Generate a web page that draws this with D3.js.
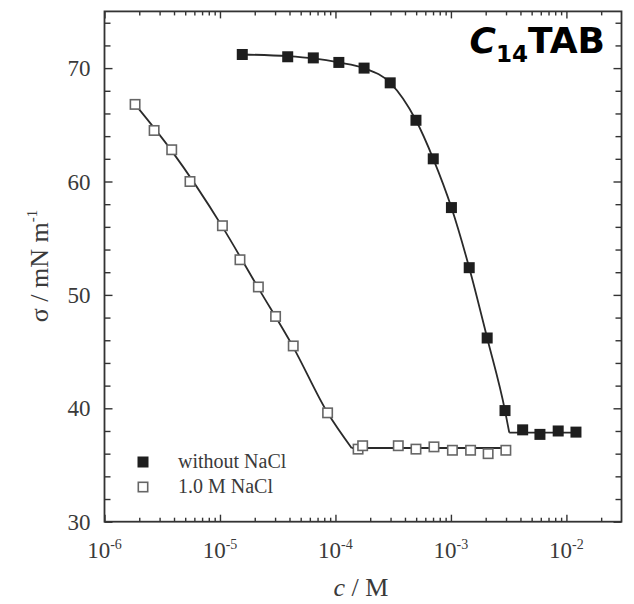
<!DOCTYPE html>
<html>
<head>
<meta charset="utf-8">
<script src="https://cdn.jsdelivr.net/npm/d3@7/dist/d3.min.js"></script>
<style>
  html, body { margin: 0; padding: 0; background: #fff; }
  svg { display: block; }
</style>
</head>
<body>
<svg id="chart" width="634" height="604"></svg>
<script>
// Surface tension of C14TAB versus concentration, with and without 1.0 M NaCl

// without NaCl (filled squares)
const freeConc = [1.56e-5, 3.86e-5, 6.43e-5, 1.07e-4, 1.77e-4, 2.98e-4, 4.98e-4, 7.03e-4,
                  1.01e-3, 1.44e-3, 2.06e-3, 2.94e-3, 4.18e-3, 5.90e-3, 8.49e-3, 1.21e-2];
const freeSigma = [71.2, 71.0, 70.9, 70.5, 70.0, 68.7, 65.4, 62.0,
                   57.7, 52.4, 46.2, 39.8, 38.1, 37.7, 38.0, 37.9];

// 1.0 M NaCl (open squares)
const saltConc = [1.84e-6, 2.69e-6, 3.82e-6, 5.50e-6, 1.05e-5, 1.49e-5, 2.15e-5, 3.03e-5,
                  4.31e-5, 8.55e-5, 1.57e-4, 1.72e-4, 3.50e-4, 4.98e-4, 7.13e-4, 1.03e-3,
                  1.48e-3, 2.10e-3, 2.99e-3];
const saltSigma = [66.8, 64.5, 62.8, 60.0, 56.1, 53.1, 50.7, 48.1,
                   45.5, 39.6, 36.4, 36.7, 36.7, 36.4, 36.6, 36.3,
                   36.3, 36.0, 36.3];

// fitted curves: curved branch up to the break (cmc), then the plateau
const freeFitConc = [1.56e-5, 3.86e-5, 6.43e-5, 1.07e-4, 1.77e-4, 2.98e-4, 4.98e-4, 7.03e-4,
                     1.01e-3, 1.44e-3, 2.06e-3, 2.94e-3, 3.2e-3];
const freeFitSigma = [71.2, 71.05, 70.85, 70.5, 70.0, 68.7, 65.4, 62.0,
                      57.7, 52.4, 46.2, 39.8, 37.85];
const freePlateauConc = [3.2e-3, 1.21e-2];
const freePlateauSigma = [37.85, 37.85];

const saltFitConc = [1.84e-6, 3.82e-6, 1.05e-5, 2.15e-5, 4.31e-5, 8.55e-5, 1.38e-4];
const saltFitSigma = [66.8, 62.7, 56.0, 50.6, 45.4, 39.6, 36.5];
const saltPlateauConc = [1.38e-4, 2.99e-3];
const saltPlateauSigma = [36.5, 36.5];

const xDecades = [1e-6, 1e-5, 1e-4, 1e-3, 1e-2];
const xDecadeExp = ["-6", "-5", "-4", "-3", "-2"];
const yMajor = [30, 40, 50, 60, 70];
const yMinor = [32, 34, 36, 38, 42, 44, 46, 48, 52, 54, 56, 58, 62, 64, 66, 68, 72, 74];

const legendLabels = ["without NaCl", "1.0 M NaCl"];

// ---- layout ----
const svg = d3.select("#chart");
const plotL = 104.5, plotR = 621.5, plotT = 11.4, plotB = 521.7;
const serif = "'Liberation Serif', 'Times New Roman', serif";
const ink = "#333";
const textInk = "#3a3a3a";

const x = d3.scaleLog().domain([1e-6, 3e-2]).range([plotL, plotR]);
const y = d3.scaleLinear().domain([30, 75]).range([plotB, plotT]);

// minor log ticks: 2..9 in each decade
const xMinor = [];
for (let e = -6; e <= -2; e++) {
  for (let m = 2; m <= 9; m++) {
    const v = m * Math.pow(10, e);
    if (v < 3e-2) xMinor.push(v);
  }
}

const axes = svg.append("g");
function styleAxis(g) {
  g.select(".domain").remove();
  g.selectAll(".tick line").attr("stroke", ink).attr("stroke-width", 1.4);
  g.selectAll(".tick text").remove();
}
// bottom & top (ticks pointing inward)
axes.append("g").attr("transform", `translate(0,${plotB})`)
  .call(d3.axisBottom(x).tickValues(xDecades).tickSize(-7)).call(styleAxis);
axes.append("g").attr("transform", `translate(0,${plotB})`)
  .call(d3.axisBottom(x).tickValues(xMinor).tickSize(-4)).call(styleAxis);
axes.append("g").attr("transform", `translate(0,${plotT})`)
  .call(d3.axisTop(x).tickValues(xDecades).tickSize(-7)).call(styleAxis);
axes.append("g").attr("transform", `translate(0,${plotT})`)
  .call(d3.axisTop(x).tickValues(xMinor).tickSize(-4)).call(styleAxis);
// left & right
axes.append("g").attr("transform", `translate(${plotL},0)`)
  .call(d3.axisLeft(y).tickValues(yMajor).tickSize(-8)).call(styleAxis);
axes.append("g").attr("transform", `translate(${plotL},0)`)
  .call(d3.axisLeft(y).tickValues(yMinor).tickSize(-6)).call(styleAxis);
axes.append("g").attr("transform", `translate(${plotR},0)`)
  .call(d3.axisRight(y).tickValues(yMajor).tickSize(-8)).call(styleAxis);
axes.append("g").attr("transform", `translate(${plotR},0)`)
  .call(d3.axisRight(y).tickValues(yMinor).tickSize(-6)).call(styleAxis);

// frame
svg.append("rect")
  .attr("x", plotL).attr("y", plotT)
  .attr("width", plotR - plotL).attr("height", plotB - plotT)
  .attr("fill", "none").attr("stroke", ink).attr("stroke-width", 1.8);

// y tick labels
svg.append("g").selectAll("text").data(yMajor).join("text")
  .attr("x", plotL - 14).attr("y", d => y(d)).attr("dy", "0.35em")
  .attr("text-anchor", "end")
  .attr("font-family", serif).attr("font-size", 23).attr("fill", textInk)
  .text(d => d);

// x tick labels: 10 with superscript exponent
const xl = svg.append("g").selectAll("text").data(xDecades).join("text")
  .attr("x", d => x(d)).attr("y", 558)
  .attr("text-anchor", "middle")
  .attr("font-family", serif).attr("font-size", 23).attr("fill", textInk);
xl.append("tspan").text("10");
xl.append("tspan").attr("dy", -9).attr("font-size", 14).text((d, i) => xDecadeExp[i]);

// axis titles
const xt = svg.append("text")
  .attr("x", 361).attr("y", 596).attr("text-anchor", "middle")
  .attr("font-family", serif).attr("font-size", 26).attr("fill", textInk);
xt.append("tspan").attr("font-style", "italic").text("c");
xt.append("tspan").text(" / M");

const yt = svg.append("text")
  .attr("transform", "translate(48,266) rotate(-90)")
  .attr("text-anchor", "middle")
  .attr("font-family", serif).attr("font-size", 26).attr("fill", textInk);
yt.append("tspan").text("\u03c3 / mN m");
yt.append("tspan").attr("dy", -11).attr("font-size", 15).text("-1");

// fitted lines
const line = d3.line().x(d => x(d[0])).y(d => y(d[1]));
const curved = d3.line().x(d => x(d[0])).y(d => y(d[1])).curve(d3.curveMonotoneX);
const zip = (a, b) => a.map((v, i) => [v, b[i]]);

const lines = svg.append("g").attr("fill", "none").attr("stroke", "#2a2a2a").attr("stroke-width", 1.8);
lines.append("path").attr("d", curved(zip(saltFitConc, saltFitSigma)));
lines.append("path").attr("d", line(zip(saltPlateauConc, saltPlateauSigma)));
lines.append("path").attr("d", curved(zip(freeFitConc, freeFitSigma)));
lines.append("path").attr("d", line(zip(freePlateauConc, freePlateauSigma)));

// markers
const s = 11;
svg.append("g").selectAll("rect").data(zip(saltConc, saltSigma)).join("rect")
  .attr("x", d => x(d[0]) - s / 2 + 0.8).attr("y", d => y(d[1]) - s / 2 + 0.8)
  .attr("width", s - 1.6).attr("height", s - 1.6)
  .attr("fill", "#fff").attr("stroke", "#666").attr("stroke-width", 1.6);
svg.append("g").selectAll("rect").data(zip(freeConc, freeSigma)).join("rect")
  .attr("x", d => x(d[0]) - s / 2).attr("y", d => y(d[1]) - s / 2)
  .attr("width", s).attr("height", s)
  .attr("fill", "#1e1e1e");

// legend
const lg = svg.append("g").attr("transform", "translate(143,462)");
lg.append("rect").attr("x", -s / 2).attr("y", -s / 2).attr("width", s).attr("height", s).attr("fill", "#1e1e1e");
lg.append("rect").attr("x", -s / 2 + 0.8).attr("y", 25 - s / 2 + 0.8)
  .attr("width", s - 1.6).attr("height", s - 1.6)
  .attr("fill", "#fff").attr("stroke", "#666").attr("stroke-width", 1.6);
lg.selectAll("text").data(legendLabels).join("text")
  .attr("x", 35).attr("y", (d, i) => i * 25 + 6)
  .attr("font-family", serif).attr("font-size", 20).attr("fill", textInk)
  .text(d => d);

// compound label
const title = svg.append("text")
  .attr("x", 605).attr("y", 53).attr("text-anchor", "end")
  .attr("font-family", "'DejaVu Sans', sans-serif").attr("font-weight", "bold")
  .attr("font-size", 36).attr("fill", "#000");
title.append("tspan").attr("font-style", "italic").text("C");
title.append("tspan").attr("dy", 9).attr("font-size", 23).text("14");
title.append("tspan").attr("dy", -9).text("TAB");
</script>
</body>
</html>
